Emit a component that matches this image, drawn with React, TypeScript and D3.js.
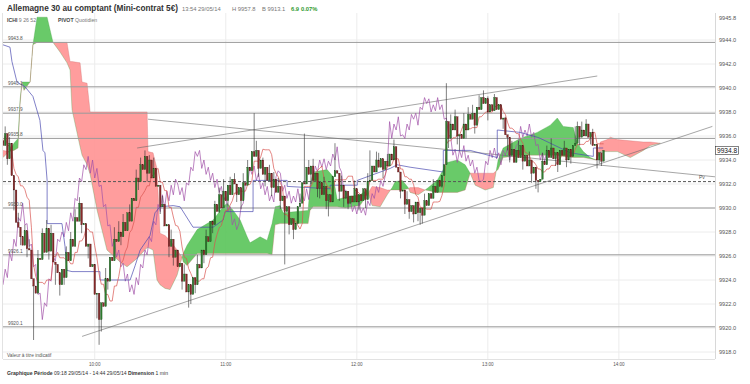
import React from "react";
import * as d3 from "d3";

// ---------- DATA ----------
const sessionMinutes = 326; // 09:18 -> 14:44
const firstOpen = 9935.6;
// 1-minute closes from 09:18 to 13:53
const closes = [
  9935.2, 9936.2, 9934.1, 9935.4, 9932.7, 9931.5, 9928.8, 9928.4, 9927.6, 9926.9,
  9928.1, 9926.6, 9926.5, 9924.1, 9923.5, 9922.9, 9925.8, 9925.7, 9927.9, 9926.3,
  9928.3, 9926.4, 9927.9, 9925.5, 9925.3, 9924.6, 9923.6, 9924.9, 9924.2, 9926.3,
  9925.6, 9927.4, 9926.8, 9929.2, 9928.9, 9930.4, 9928.6, 9928.7, 9926.8, 9927.0,
  9925.1, 9925.3, 9922.8, 9922.9, 9920.7, 9922.1, 9921.8, 9924.1, 9923.9, 9925.9,
  9925.6, 9927.4, 9927.2, 9928.0, 9927.6, 9928.8, 9928.1, 9929.6, 9928.9, 9930.8,
  9930.6, 9932.5, 9932.2, 9933.6, 9933.2, 9934.3, 9932.9, 9934.0, 9932.5, 9933.3,
  9931.8, 9931.9, 9930.1, 9930.3, 9928.5, 9928.6, 9926.8, 9927.4, 9925.9, 9926.5,
  9925.1, 9925.4, 9923.9, 9924.5, 9923.0, 9923.6, 9922.8, 9924.2, 9923.6, 9925.3,
  9925.0, 9926.5, 9926.1, 9927.6, 9927.2, 9928.9, 9928.6, 9930.3, 9929.7, 9931.1,
  9930.0, 9931.4, 9930.6, 9931.9, 9931.1, 9932.4, 9932.0, 9931.1, 9931.7, 9930.6,
  9932.1, 9931.9, 9933.4, 9933.1, 9934.7, 9934.3, 9934.8, 9933.3, 9934.0, 9932.8,
  9933.4, 9932.3, 9932.9, 9931.7, 9932.4, 9931.3, 9931.8, 9930.6, 9931.0, 9929.7,
  9930.1, 9928.6, 9929.1, 9928.2, 9928.7, 9930.1, 9930.4, 9932.1, 9932.0, 9933.4,
  9932.8, 9933.5, 9932.3, 9932.9, 9931.6, 9932.1, 9931.1, 9931.8, 9930.6, 9931.1,
  9930.5, 9932.6, 9933.1, 9932.9, 9931.4, 9931.9, 9930.8, 9931.4, 9930.4, 9931.0,
  9930.5, 9931.6, 9930.5, 9931.1, 9930.6, 9931.6, 9930.7, 9932.2, 9932.3, 9933.5,
  9933.0, 9934.0, 9933.4, 9934.1, 9933.2, 9933.9, 9933.5, 9934.5, 9934.0, 9935.1,
  9933.4, 9933.0, 9931.4, 9931.5, 9930.3, 9930.7, 9929.7, 9930.2, 9929.5, 9930.5,
  9929.6, 9930.0, 9929.4, 9930.6, 9930.2, 9931.2, 9930.8, 9931.8, 9931.3, 9932.3,
  9931.8, 9932.7, 9933.6, 9937.2, 9935.8, 9937.0, 9936.5, 9937.6, 9936.0, 9936.1,
  9935.8, 9937.0, 9936.5, 9937.8, 9937.4, 9937.9, 9936.9, 9938.4, 9938.2, 9939.2,
  9938.7, 9939.1, 9938.0, 9938.6, 9938.1, 9939.2, 9938.2, 9938.6, 9937.4, 9937.5,
  9936.1, 9935.9, 9934.4, 9934.9, 9933.8, 9934.8, 9934.2, 9935.2, 9933.9, 9934.4,
  9933.5, 9934.0, 9932.9, 9933.4, 9932.3, 9932.2, 9932.4, 9933.9, 9933.6, 9934.8,
  9934.2, 9935.0, 9934.1, 9934.6, 9933.6, 9934.8, 9934.4, 9935.0, 9934.0, 9934.9,
  9934.3, 9935.2, 9935.4, 9936.8, 9935.9, 9936.5, 9936.0, 9937.0, 9935.9, 9936.3,
  9935.2, 9935.3, 9934.0, 9934.6, 9933.9, 9934.8,
];
// wicks [minute index, price]
const highSpikes = [
  [1, 9936.8], [3, 9935.9], [7, 9929.6], [10, 9928.6], [12, 9927.4], [16, 9926.5],
  [18, 9928.3], [20, 9929.0], [22, 9928.6], [29, 9926.8], [31, 9928.0], [33, 9929.9],
  [35, 9930.9], [40, 9926.6], [47, 9925.0], [51, 9928.4], [53, 9928.9], [55, 9929.5],
  [58, 9930.3], [61, 9933.2], [63, 9934.2], [65, 9934.8], [67, 9934.4], [69, 9934.2],
  [73, 9931.0], [77, 9928.2], [83, 9925.3], [89, 9926.1], [93, 9928.2], [97, 9930.6],
  [99, 9931.7], [101, 9932.4], [104, 9932.6], [106, 9932.9], [110, 9932.9], [112, 9934.0],
  [115, 9937.9], [116, 9935.6], [119, 9934.2], [122, 9933.6], [124, 9933.0], [126, 9932.5],
  [136, 9931.2], [138, 9936.2], [140, 9934.0], [142, 9934.1], [147, 9932.6], [152, 9935.4],
  [155, 9932.7], [161, 9932.3], [167, 9932.9], [168, 9934.8], [171, 9934.7], [172, 9934.6],
  [176, 9934.5], [179, 9935.7], [185, 9931.4], [193, 9931.2], [197, 9932.4], [203, 9940.4],
  [205, 9937.8], [207, 9938.2], [211, 9937.9], [213, 9938.4], [215, 9938.6], [218, 9939.4],
  [220, 9939.8], [222, 9939.3], [225, 9939.5], [226, 9939.0], [228, 9938.6], [230, 9937.6],
  [233, 9935.6], [236, 9935.6], [241, 9934.7], [247, 9934.6], [249, 9935.2], [251, 9935.8],
  [257, 9935.6], [262, 9936.8], [263, 9937.2], [265, 9937.2], [267, 9937.4], [268, 9937.0],
  [270, 9936.6],
];
const lowSpikes = [
  [2, 9933.6], [5, 9929.8], [8, 9926.9], [11, 9925.9], [14, 9919.0], [21, 9925.7],
  [24, 9923.6], [26, 9922.7], [28, 9923.6], [36, 9927.9], [39, 9925.8], [43, 9920.8],
  [44, 9918.6], [45, 9919.7], [48, 9923.2], [54, 9926.9], [62, 9931.5], [66, 9932.2],
  [72, 9929.5], [76, 9925.9], [78, 9925.2], [82, 9923.2], [85, 9921.7], [86, 9922.0],
  [88, 9922.9], [92, 9925.4], [96, 9927.9], [99, 9929.6], [103, 9930.2], [107, 9930.5],
  [109, 9929.9], [117, 9932.6], [120, 9931.8], [123, 9931.0], [127, 9929.9], [129, 9925.3],
  [131, 9927.8], [133, 9927.4], [141, 9932.0], [144, 9930.9], [145, 9930.8], [148, 9929.9],
  [149, 9929.3], [154, 9930.6], [156, 9930.1], [158, 9929.9], [163, 9929.8], [166, 9930.0],
  [174, 9932.5], [182, 9930.8], [184, 9929.5], [186, 9929.1], [188, 9928.8], [190, 9928.9],
  [191, 9928.6], [192, 9928.7], [195, 9930.4], [201, 9931.7], [204, 9935.0], [208, 9935.3],
  [209, 9934.8], [212, 9935.8], [216, 9936.2], [222, 9937.3], [229, 9936.6], [231, 9934.8],
  [232, 9933.8], [238, 9933.2], [242, 9932.1], [244, 9931.6], [245, 9931.3], [253, 9933.5],
  [254, 9933.0], [258, 9933.4], [260, 9933.7], [264, 9935.2], [269, 9935.3], [272, 9933.3],
  [273, 9933.7], [274, 9933.5],
];

// Ichimoku cloud (already shifted forward), in minutes from 09:18
const cloudMinutes = [
  0, 2.7, 5.0, 6.9, 7.8, 8.7, 9.6, 12.4, 13.7, 15.6, 20.2, 22.9, 26.1, 29.3, 30.7, 31.6,
  35.3, 36.2, 38.5, 39.9, 43.1, 47.6, 53.6, 56.8, 61.4, 66.0, 66.4, 68.7, 70.5, 71.9,
  74.2, 76.5, 79.7, 82.0, 82.5, 84.3, 88.9, 96.2, 100.8, 102.6, 105.4, 108.6, 111.8,
  113.1, 117.7, 120.9, 123.2, 124.6, 126.9, 128.3, 139.7, 140.6, 142.0, 148.4, 151.2,
  153.0, 156.7, 163.5, 166.7, 169.0, 172.7, 175.9, 178.2, 179.6, 182.8, 185.5, 186.4,
  190.1, 193.3, 198.8, 203.4, 208.0, 211.6, 213.9, 216.2, 220.8, 224.5, 226.7, 229.0,
  236.8, 244.6, 250.6, 253.8, 256.5, 261.1, 262.9, 265.7, 268.9, 271.6, 273.5, 276.7,
  278.1, 281.3, 287.2, 293.2, 296.4, 301.0,
];
const spanA = [
  9934.2, 9934.7, 9935.4, 9935.8, 9939.0, 9940.5, 9940.5, 9940.5, 9943.6, 9945.9,
  9945.9, 9943.8, 9943.0, 9942.1, 9941.5, 9938.2, 9935.1, 9934.4, 9933.6, 9932.8,
  9929.8, 9926.5, 9925.5, 9925.1, 9925.8, 9926.7, 9926.7, 9926.5, 9924.0, 9923.6,
  9923.3, 9923.2, 9924.4, 9925.9, 9926.2, 9926.9, 9928.2, 9929.0, 9930.1, 9930.4,
  9929.8, 9929.0, 9927.6, 9927.1, 9927.6, 9927.3, 9928.7, 9930.1, 9930.2, 9929.6,
  9929.8, 9931.9, 9933.0, 9933.2, 9932.6, 9930.7, 9930.9, 9931.1, 9931.5, 9930.2,
  9930.1, 9931.1, 9931.7, 9932.2, 9932.3, 9931.7, 9931.3, 9931.1, 9931.5, 9932.3,
  9933.8, 9934.0, 9933.6, 9932.9, 9931.9, 9931.5, 9931.7, 9934.0, 9935.0, 9935.8,
  9936.3, 9936.9, 9937.5, 9936.8, 9936.7, 9935.4, 9934.7, 9934.2, 9934.0, 9934.7,
  9934.7, 9934.7, 9934.7, 9934.2, 9934.8, 9935.2, 9935.4,
];
const spanB = [
  9934.8, 9934.7, 9934.8, 9935.0, 9938.6, 9940.5, 9939.8, 9940.5, 9943.6, 9943.8,
  9943.8, 9943.8, 9943.8, 9943.8, 9942.2, 9942.2, 9942.1, 9940.5, 9940.4, 9938.0,
  9938.0, 9938.0, 9938.0, 9938.0, 9938.0, 9938.0, 9934.7, 9934.6, 9933.3, 9927.9,
  9927.7, 9927.3, 9926.5, 9925.9, 9925.5, 9925.2, 9926.2, 9926.2, 9926.2, 9926.2,
  9926.2, 9926.2, 9926.2, 9926.2, 9926.2, 9926.2, 9926.1, 9928.6, 9928.7, 9928.7,
  9928.7, 9929.8, 9930.1, 9930.1, 9930.1, 9930.1, 9930.0, 9930.2, 9931.1, 9931.8,
  9931.7, 9931.5, 9931.5, 9931.5, 9931.5, 9931.6, 9931.7, 9931.7, 9931.5, 9931.3,
  9931.3, 9931.3, 9931.5, 9932.9, 9932.9, 9932.9, 9932.9, 9933.2, 9934.2, 9934.4,
  9934.4, 9934.4, 9934.4, 9934.3, 9934.2, 9934.2, 9934.2, 9934.1, 9934.0, 9935.5,
  9935.7, 9935.9, 9935.7, 9935.6, 9935.5, 9935.5, 9935.4,
];
// Kijun (blue)
const kijunMinutes = [
  0, 3.2, 4.1, 6.4, 10.1, 13.7, 16.9, 18.3, 19.2, 20.2, 20.2, 27.0, 28.4, 29.3, 31.6,
  44.4, 44.4, 58.2, 60.5, 62.8, 67.3, 69.6, 71.9, 77.9, 81.1, 87.0, 96.2, 100.8, 101.7,
  114.5, 114.5, 130.1, 130.1, 149.8, 149.8, 162.2, 162.2, 177.3, 180.5, 186.4, 201.6,
  201.6, 213.9, 226.3, 226.3, 236.8, 244.6, 246.0, 259.7, 270.3, 270.3, 274.8,
];
const kijunValues = [
  9943.6, 9943.4, 9942.2, 9940.5, 9940.1, 9939.3, 9937.3, 9934.8, 9934.6, 9932.3,
  9928.7, 9928.7, 9926.8, 9924.8, 9924.7, 9924.7, 9924.0, 9924.0, 9925.2, 9926.5,
  9927.7, 9929.6, 9930.1, 9930.2, 9930.1, 9928.4, 9928.4, 9929.0, 9929.7, 9929.7,
  9932.3, 9932.3, 9931.8, 9931.6, 9931.9, 9931.9, 9932.3, 9933.3, 9933.6, 9933.4,
  9933.0, 9934.8, 9934.8, 9934.2, 9936.5, 9936.3, 9935.9, 9935.8, 9934.6, 9934.3,
  9935.0, 9935.0,
];
// Daily pivots
const pivotLevels = [9943.8, 9940.1, 9937.9, 9935.8, 9930.0, 9926.1, 9920.1];
const pivotValue = 9932.2;
// Trend lines [startMinute, startPrice, endMinute, endPrice]
const trendLines = [
  [36.2, 9919.3, 324.8, 9936.8],
  [61.4, 9935.0, 272.1, 9941.0],
  [66.4, 9937.4, 326, 9932.6],
];
const yTicks = [9918, 9920, 9922, 9924, 9926, 9928, 9930, 9932, 9934, 9936, 9938, 9940, 9942, 9944];
const yTopLabel = 9945.8;
const lastPrice = 9934.8;
const timeTickMinutes = [42, 102, 162, 222, 282];
const timeTickLabels = ["10:00", "11:00", "12:00", "13:00", "14:00"];

const FONT = "'Liberation Sans', Arial, Helvetica, sans-serif";

export default function App() {
  const plot = { left: 3, right: 715, top: 13, bottom: 359 };
  const x = d3.scaleLinear().domain([0, sessionMinutes]).range([plot.left, plot.right]);
  const y = d3.scaleLinear().domain([9918, 9944]).range([352, 40]);
  const barW = (x(1) - x(0)) * 0.72;

  const candles = closes.map((c, i) => {
    const o = i === 0 ? firstOpen : closes[i - 1];
    const hs = highSpikes.find((s) => s[0] === i);
    const ls = lowSpikes.find((s) => s[0] === i);
    const h = Math.max(o, c, hs ? hs[1] : -Infinity);
    const l = Math.min(o, c, ls ? ls[1] : Infinity);
    return { i, o, c, h, l };
  });

  const tenkan = candles.map((d, i) => {
    const win = candles.slice(Math.max(0, i - 8), i + 1);
    return { m: i, v: ((d3.max(win, (w) => w.h) as number) + (d3.min(win, (w) => w.l) as number)) / 2 };
  });
  const chikou = closes.slice(26).map((c, k) => ({ m: k, v: c }));
  const kijun = kijunMinutes.map((m, i) => ({ m, v: kijunValues[i] }));
  const cloud = cloudMinutes.map((m, i) => ({ m, a: spanA[i], b: spanB[i] }));

  const line = d3.line<{ m: number; v: number }>().x((d) => x(d.m)).y((d) => y(d.v));
  const belowA = d3.area<any>().x((d) => x(d.m)).y0((d) => y(d.a)).y1(plot.bottom)(cloud) || "";
  const belowB = d3.area<any>().x((d) => x(d.m)).y0((d) => y(d.b)).y1(plot.bottom)(cloud) || "";
  const aboveA = d3.area<any>().x((d) => x(d.m)).y0((d) => y(d.a)).y1(plot.top)(cloud) || "";
  const aboveB = d3.area<any>().x((d) => x(d.m)).y0((d) => y(d.b)).y1(plot.top)(cloud) || "";
  const spanALine = d3.line<any>().x((d) => x(d.m)).y((d) => y(d.a))(cloud) || "";
  const spanBLine = d3.line<any>().x((d) => x(d.m)).y((d) => y(d.b))(cloud) || "";

  return (
    <div style={{ position: "absolute", left: 0, top: 0 }}>
      <svg width={750} height={384} style={{ display: "block", background: "#fff" }} fontFamily={FONT}>
        <defs>
          <clipPath id="plotClip">
            <rect x={plot.left} y={plot.top} width={plot.right - plot.left} height={plot.bottom - plot.top} />
          </clipPath>
          <clipPath id="belowA"><path d={belowA} /></clipPath>
          <clipPath id="belowB"><path d={belowB} /></clipPath>
        </defs>

        {/* grid */}
        {yTicks.map((t) => (
          <line key={"gy" + t} x1={plot.left} x2={plot.right} y1={y(t)} y2={y(t)} stroke="#ececec" strokeWidth={1} />
        ))}
        {timeTickMinutes.map((m) => (
          <line key={"gx" + m} x1={x(m)} x2={x(m)} y1={plot.top} y2={plot.bottom} stroke="#ececec" strokeWidth={1} />
        ))}
        <line x1={plot.right + 0.5} x2={plot.right + 0.5} y1={plot.top} y2={plot.bottom} stroke="#d8d8d8" />
        <line x1={plot.left} x2={plot.right} y1={plot.bottom + 0.5} y2={plot.bottom + 0.5} stroke="#e2e2e2" />
        <line x1={plot.left - 0.5} x2={plot.left - 0.5} y1={plot.top} y2={plot.bottom} stroke="#e2e2e2" />

        <g clipPath="url(#plotClip)">
          {/* cloud */}
          <path d={aboveB} fill="#5cc65c" fillOpacity={0.92} clipPath="url(#belowA)" />
          <path d={aboveA} fill="#ff9292" fillOpacity={0.9} clipPath="url(#belowB)" />
          <path d={spanALine} fill="none" stroke="#3d9a3d" strokeWidth={0.5} strokeOpacity={0.6} />
          <path d={spanBLine} fill="none" stroke="#c86060" strokeWidth={0.5} strokeOpacity={0.6} />

          {/* pivots */}
          {pivotLevels.map((p) => (
            <line key={"pv" + p} x1={plot.left} x2={plot.right} y1={y(p)} y2={y(p)} stroke="#9a9a9a" strokeWidth={1} />
          ))}
          <line x1={plot.left} x2={plot.right} y1={y(pivotValue)} y2={y(pivotValue)} stroke="#555" strokeWidth={1} strokeDasharray="3,2" />

          {/* trend lines */}
          {trendLines.map((t, i) => (
            <line key={"tl" + i} x1={x(t[0])} y1={y(t[1])} x2={x(t[2])} y2={y(t[3])} stroke="#6a6a6a" strokeWidth={0.6} />
          ))}

          {/* ichimoku lines */}
          <path d={line(chikou) || ""} fill="none" stroke="#a050a8" strokeWidth={0.7} />
          <path d={line(kijun) || ""} fill="none" stroke="#4b4bb0" strokeWidth={0.7} />
          <path d={line(tenkan) || ""} fill="none" stroke="#d9534f" strokeWidth={0.7} />

          {/* candles */}
          {candles.map((d) => {
            const up = d.c >= d.o;
            const cx = x(d.i);
            const top = y(Math.max(d.o, d.c));
            const bot = y(Math.min(d.o, d.c));
            return (
              <g key={"c" + d.i}>
                <line x1={cx} x2={cx} y1={y(d.h)} y2={y(d.l)} stroke="#2b2b2b" strokeWidth={0.6} />
                <rect
                  x={cx - barW / 2}
                  y={top}
                  width={barW}
                  height={Math.max(0.8, bot - top)}
                  fill={up ? "#2f7d2f" : "#8a2a2a"}
                  stroke={up ? "#1b4a1b" : "#4a1414"}
                  strokeWidth={0.3}
                />
              </g>
            );
          })}
        </g>

        {/* pivot labels */}
        {pivotLevels.map((p) => (
          <text key={"pl" + p} x={8} y={y(p) - 2} fontSize={4.8} fill="#555">{p.toFixed(1)}</text>
        ))}
        <text x={699} y={y(pivotValue) - 2.5} fontSize={5} fill="#555">Pv</text>

        {/* right axis */}
        {yTicks.map((t) => (
          <text key={"yl" + t} x={719} y={y(t)} dy="0.35em" fontSize={5.6} fill="#555">{t.toFixed(1)}</text>
        ))}
        <text x={719} y={y(yTopLabel)} dy="0.35em" fontSize={5.6} fill="#555">{yTopLabel.toFixed(1)}</text>
        <rect x={715.5} y={y(lastPrice) - 4} width={23} height={8} fill="#fff" stroke="#333" strokeWidth={0.6} />
        <text x={717} y={y(lastPrice)} dy="0.36em" fontSize={6.6} fill="#111">{lastPrice.toFixed(1)}</text>

        {/* time axis */}
        {timeTickMinutes.map((m, i) => (
          <text key={"tx" + m} x={x(m)} y={366} fontSize={4.6} fill="#555" textAnchor="middle">{timeTickLabels[i]}</text>
        ))}

        <text x={7} y={357} fontSize={4.8} fill="#555">Valeur à titre indicatif</text>

        {/* header */}
        <text x={7} y={11} fontSize={8.6} fontWeight="bold" fill="#333" textLength={171} lengthAdjust="spacingAndGlyphs">
          Allemagne 30 au comptant (Mini-contrat 5€)
        </text>
        <text x={182} y={11} fontSize={5.8} fill="#777">13:54 29/05/14</text>
        <text x={232} y={11} fontSize={5.8} fill="#777">H 9957.8</text>
        <text x={262} y={11} fontSize={5.8} fill="#777">B 9913.1</text>
        <text x={291} y={11} fontSize={5.8} fill="#2f9a2f" fontWeight="bold">6.9</text>
        <text x={301} y={11} fontSize={5.8} fill="#2f9a2f" fontWeight="bold">0.07%</text>

        <text x={7} y={22} fontSize={5.2} fill="#444">
          <tspan fontWeight="bold">ICHI</tspan>
          <tspan fill="#777"> 9 26 52</tspan>
        </text>
        <text x={58} y={22} fontSize={5.2} fill="#444">
          <tspan fontWeight="bold">PIVOT</tspan>
          <tspan fill="#777"> Quotidien</tspan>
        </text>

        {/* footer */}
        <text x={7} y={375} fontSize={5.2} fill="#333" textLength={161} lengthAdjust="spacingAndGlyphs">
          <tspan fontWeight="bold">Graphique Période</tspan>
          <tspan> 09:18 29/05/14 - 14:44 29/05/14   </tspan>
          <tspan fontWeight="bold">Dimension</tspan>
          <tspan> 1 min</tspan>
        </text>
      </svg>
    </div>
  );
}
